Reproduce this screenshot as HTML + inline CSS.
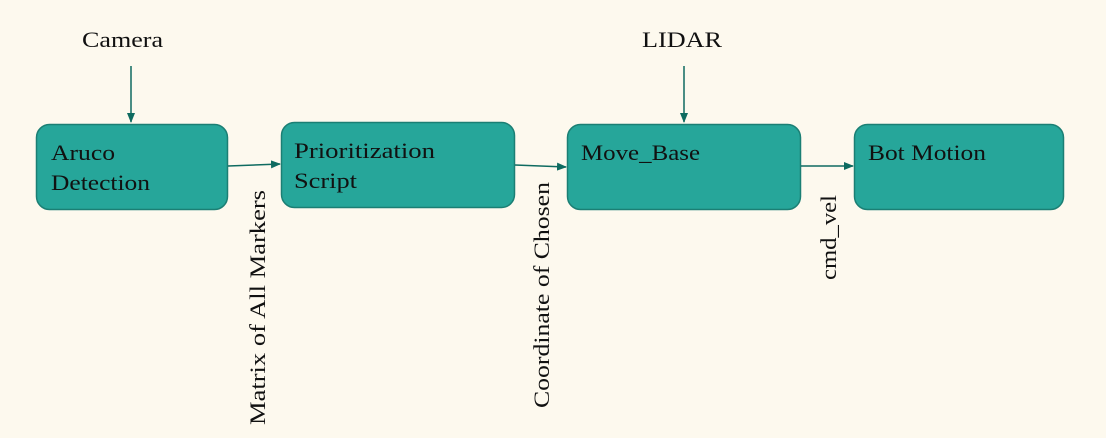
<!DOCTYPE html>
<html><head><style>
body{margin:0;background:#fdf9ee;}
svg{display:block;font-family:"Liberation Serif",serif;}
</style></head><body>
<svg width="1106" height="438" viewBox="0 0 1106 438">
<rect width="1106" height="438" fill="#fdf9ee"/>
<defs><marker id="a" markerWidth="10" markerHeight="8" refX="9" refY="4" orient="auto" markerUnits="userSpaceOnUse"><path d="M0,0 L10,4 L0,8 Z" fill="#0e6b60"/></marker></defs>
<g fill="#26a69a" stroke="#1b7f74" stroke-width="1.5">
<rect x="36.5" y="124.5" width="191" height="85" rx="13"/>
<rect x="281.5" y="122.5" width="233" height="85" rx="13"/>
<rect x="567.5" y="124.5" width="233" height="85" rx="13"/>
<rect x="854.5" y="124.5" width="209" height="85" rx="13"/>
</g>
<g stroke="#0e6b60" stroke-width="1.5" fill="none" marker-end="url(#a)">
<line x1="131" y1="66" x2="131" y2="122"/>
<line x1="684" y1="66" x2="684" y2="122"/>
<line x1="228" y1="166" x2="280" y2="164"/>
<line x1="515" y1="165" x2="566" y2="167"/>
<line x1="801" y1="166" x2="853" y2="166"/>
</g>
<g font-size="22" fill="#111" lengthAdjust="spacingAndGlyphs">
<text x="82" y="47" textLength="81" lengthAdjust="spacingAndGlyphs">Camera</text>
<text x="642" y="47" textLength="80" lengthAdjust="spacingAndGlyphs">LIDAR</text>
<text x="51" y="160" textLength="64" lengthAdjust="spacingAndGlyphs">Aruco</text>
<text x="51" y="190" textLength="99" lengthAdjust="spacingAndGlyphs">Detection</text>
<text x="294" y="158" textLength="141" lengthAdjust="spacingAndGlyphs">Prioritization</text>
<text x="294" y="188" textLength="63" lengthAdjust="spacingAndGlyphs">Script</text>
<text x="581" y="160" textLength="119" lengthAdjust="spacingAndGlyphs">Move_Base</text>
<text x="868" y="160" textLength="118" lengthAdjust="spacingAndGlyphs">Bot Motion</text>
<text transform="translate(265,425) rotate(-90)" textLength="235" lengthAdjust="spacingAndGlyphs">Matrix of All Markers</text>
<text transform="translate(549,408) rotate(-90)" textLength="226" lengthAdjust="spacingAndGlyphs">Coordinate of Chosen</text>
<text transform="translate(836,280) rotate(-90)" textLength="85" lengthAdjust="spacingAndGlyphs">cmd_vel</text>
</g>
</svg>
</body></html>
